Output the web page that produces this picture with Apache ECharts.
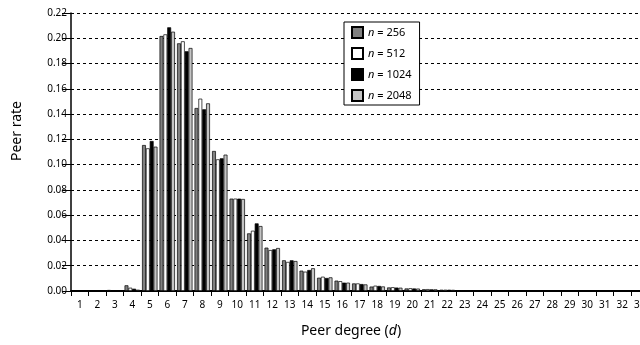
<!DOCTYPE html>
<html>
<head>
<meta charset="utf-8">
<script src="https://cdn.jsdelivr.net/npm/echarts@6/dist/echarts.min.js"></script>
<style>html,body{margin:0;padding:0;background:#fff;}#c{width:640px;height:345px;}</style>
</head>
<body>
<div id="c"></div>
<script>
const categories = ['1','2','3','4','5','6','7','8','9','10','11','12','13','14','15','16','17','18','19','20','21','22','23','24','25','26','27','28','29','30','31','32','33'];
const n256  = [0,0,0.0008,0.0045,0.1155,0.2018,0.1960,0.1448,0.1108,0.0731,0.0456,0.0343,0.0243,0.0161,0.0105,0.0082,0.0060,0.0035,0.0028,0.0020,0.0014,0.0010,0.0006,0.0004,0.0002,0.0002,0.0001,0.0001,0,0,0,0,0];
const n512  = [0,0,0.0005,0.0026,0.1129,0.2031,0.1976,0.1522,0.1042,0.0731,0.0477,0.0324,0.0230,0.0153,0.0113,0.0078,0.0060,0.0042,0.0030,0.0022,0.0015,0.0010,0.0006,0.0003,0.0002,0.0001,0.0001,0,0,0,0,0,0];
const n1024 = [0,0,0.0003,0.0018,0.1187,0.2087,0.1897,0.1438,0.1050,0.0731,0.0535,0.0330,0.0243,0.0166,0.0103,0.0066,0.0055,0.0040,0.0027,0.0020,0.0013,0.0010,0.0005,0.0003,0.0002,0.0001,0.0001,0,0,0,0,0,0];
const n2048 = [0,0,0.0002,0.0010,0.1142,0.2052,0.1923,0.1485,0.1079,0.0728,0.0514,0.0340,0.0237,0.0180,0.0108,0.0066,0.0052,0.0036,0.0026,0.0019,0.0013,0.0009,0.0005,0.0003,0.0002,0.0001,0.0001,0,0,0,0,0,0];
const seriesNames = ['256','512','1024','2048'];
const seriesData = [n256, n512, n1024, n2048];
const seriesColors = ['#808080','#ffffff','#000000','#c4c4c4'];
const yTicks = {min:0, max:0.22, interval:0.02};

const FONT = '"Noto Sans", "DejaVu Sans", sans-serif';
const chart = echarts.init(document.getElementById('c'), null, {renderer:'canvas'});
chart.setOption({
  animation:false,
  backgroundColor:'#ffffff',
  textStyle:{fontFamily:FONT},
  grid:{left:71, top:13, width:577.5, height:278, containLabel:false, outerBoundsMode:'none'},
  legend:{
    orient:'vertical', left:344, top:22,
    padding:[4,8,3,7],
    itemWidth:11, itemHeight:11, itemGap:8,
    borderColor:'#000', borderWidth:1, backgroundColor:'#fff',
    icon:'rect',
    textStyle:{fontSize:11, color:'#000', lineHeight:11, fontFamily:FONT,
      rich:{i:{fontStyle:'italic', fontSize:11, fontFamily:FONT}, t:{fontSize:11, fontFamily:FONT}}},
    formatter:function(name){ return '{i|n} {t|= ' + name + '}'; },
    data:seriesNames
  },
  xAxis:{
    type:'category', data:categories,
    axisLine:{lineStyle:{color:'#000', width:2}},
    axisTick:{show:true, length:5, lineStyle:{color:'#000', width:1}},
    axisLabel:{color:'#000', fontSize:10, margin:9, interval:0, fontFamily:FONT, hideOverlap:false},
    splitLine:{show:false}
  },
  yAxis:{
    type:'value', min:yTicks.min, max:yTicks.max, interval:yTicks.interval,
    axisLine:{show:true, lineStyle:{color:'#000', width:1.5}},
    axisTick:{show:true, length:9, lineStyle:{color:'#000', width:1}},
    axisLabel:{color:'#000', fontSize:10, margin:4, fontFamily:FONT,
      formatter:function(v){return v.toFixed(2);}},
    splitLine:{show:true, lineStyle:{color:'#000', width:1, type:[3,3]}}
  },
  graphic:[
    {type:'text', x:17, y:131, rotation:Math.PI/2,
      style:{text:'Peer rate', font:'14px ' + FONT, fill:'#000', align:'center', verticalAlign:'middle'}},
    {type:'text', x:351, y:331,
      style:{text:'{a|Peer degree (}{b|d}{a|)}', fill:'#000', align:'center', verticalAlign:'middle',
        rich:{a:{fontSize:14, fontFamily:FONT, fill:'#000'}, b:{fontSize:14, fontFamily:FONT, fontStyle:'italic', fill:'#000'}}}}
  ],
  series: seriesData.map(function(d,i){
    return {
      name:seriesNames[i], type:'bar', data:d,
      barGap:'0%', barCategoryGap:'12%',
      itemStyle:{color:seriesColors[i], borderColor:'#000', borderWidth:0.7},
      emphasis:{disabled:true}
    };
  })
});
</script>
</body>
</html>
